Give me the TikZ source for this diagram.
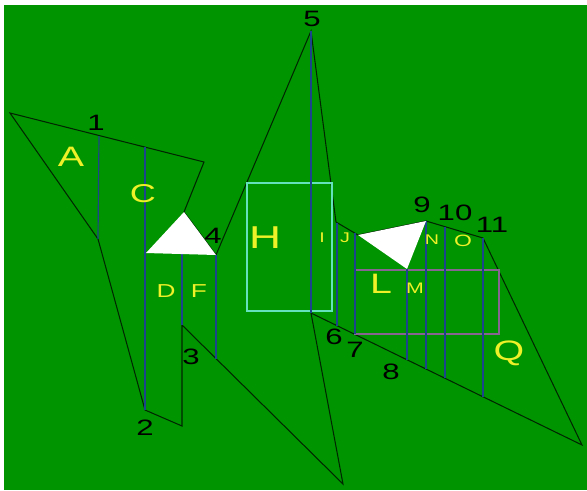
\documentclass[tikz,border=0pt]{standalone}
\usepackage{fontspec}
\newfontfamily\labfont[FakeStretch=1.4]{Liberation Sans}
\definecolor{fig_green}{RGB}{0,148,0}
\definecolor{fig_blue}{RGB}{28,68,140}
\definecolor{fig_yellow}{RGB}{238,240,40}
\definecolor{fig_teal}{RGB}{100,226,190}
\definecolor{fig_purple}{RGB}{135,100,145}
\usetikzlibrary{calc}

\begin{document}
\begin{tikzpicture}[x=0.03cm, y=-0.03cm,
    edge/.style={draw=black!85!green, line width=0.9pt},
    cut/.style={draw=fig_blue, line width=1pt},
    tri/.style={fill=white},
    bigl/.style={text=fig_yellow, inner sep=0pt,
                 font={\labfont\fontsize{24pt}{24pt}\selectfont}},
    midl/.style={text=fig_yellow, inner sep=0pt,
                 font={\labfont\fontsize{16pt}{16pt}\selectfont}},
    smll/.style={text=fig_yellow, inner sep=0pt,
                 font={\labfont\fontsize{12pt}{12pt}\selectfont}},
    num/.style={text=black, inner sep=0pt,
                font={\labfont\fontsize{19pt}{19pt}\selectfont}}]
  % Fond
  \useasboundingbox (0,0) rectangle (587,490);
  \fill[white] (0,0) rectangle (587,490);
  \fill[fig_green] (4,5) rectangle (587,490);
  % Sommets
  \coordinate (p1) at (10,113);
  \coordinate (p2) at (204,162);
  \coordinate (ta) at (184,212);
  \coordinate (tb) at (146,253);
  \coordinate (v4) at (216,255);
  \coordinate (v5) at (311,31);
  \coordinate (q1) at (336,222);
  \coordinate (la) at (358,235);
  \coordinate (v9) at (426,221);
  \coordinate (lb) at (407,269);
  \coordinate (v11) at (483,238);
  \coordinate (vr) at (582,445);
  \coordinate (v6) at (311,313);
  \coordinate (vb) at (343,484);
  \coordinate (v3) at (182,325);
  \coordinate (v3b) at (182,426);
  \coordinate (v2) at (145,410);
  \coordinate (kk) at (98,239);
  % Contour
  \draw[edge] (p1) -- (p2) -- (ta) -- (v4) -- (v5) -- (q1) -- (la) -- (v9)
    -- (v11) -- (vr) -- (v6) -- (vb) -- (v3) -- (v3b) -- (v2) -- (kk) -- cycle;
  % Cadres
  \draw[fig_teal, line width=0.9pt] (247,183) rectangle (332,311);
  \draw[fig_purple, line width=1pt] (355,270) rectangle (499,334);
  % Coupes
  \draw[cut] (99,136) -- (kk);
  \draw[cut] (145,147) -- (v2);
  \draw[cut] (182,254) -- (v3);
  \draw[cut] (v4) -- (216,358.5);
  \draw[cut] (v5) -- (v6);
  \draw[cut] (337,222.6) -- (337,325.7);
  \draw[cut] (355,233.2) -- (355,334.4);
  \draw[cut] (lb) -- (407,359.8);
  \draw[cut] (v9) -- (426,369);
  \draw[cut] (445,226.7) -- (445,378.3);
  \draw[cut] (v11) -- (483,396.8);
  % Triangles
  \fill[tri] (ta) -- (tb) -- (v4) -- cycle;
  \fill[tri] (la) -- (v9) -- (lb) -- cycle;
  % Lettres
  \node[bigl] (la_A) at (71,157) {A};
  \node[bigl, font={\labfont\fontsize{22pt}{22pt}\selectfont}] (la_C) at (143,194) {C};
  \node[midl] (la_D) at (166,291) {D};
  \node[midl] (la_F) at (199,291) {F};
  \node[bigl, font={\labfont\fontsize{27pt}{27pt}\selectfont}] (la_H) at (265,238) {H};
  \node[smll] (la_I) at (322,238) {I};
  \node[smll] (la_J) at (345,238) {J};
  \node[bigl] (la_L) at (381,284) {L};
  \node[smll, font={\labfont\fontsize{13pt}{13pt}\selectfont}] (la_M) at (415,288) {M};
  \node[smll] (la_N) at (432,240) {N};
  \node[smll, font={\labfont\fontsize{14pt}{14pt}\selectfont}] (la_O) at (463,241) {O};
  \node[bigl] (la_Q) at (509,353) {Q};
  % Numeros
  \node[num] (n1) at (96,123) {1};
  \node[num] (n2) at (145,428) {2};
  \node[num] (n3) at (191,357) {3};
  \node[num] (n4) at (213,236) {4};
  \node[num] (n5) at (312,19) {5};
  \node[num] (n6) at (334,337) {6};
  \node[num] (n7) at (355,350) {7};
  \node[num] (n8) at (391,372) {8};
  \node[num] (n9) at (422,205) {9};
  \node[num] (n10) at (455,213) {10};
  \node[num] (n11) at (492,225) {11};
\end{tikzpicture}
\end{document}
